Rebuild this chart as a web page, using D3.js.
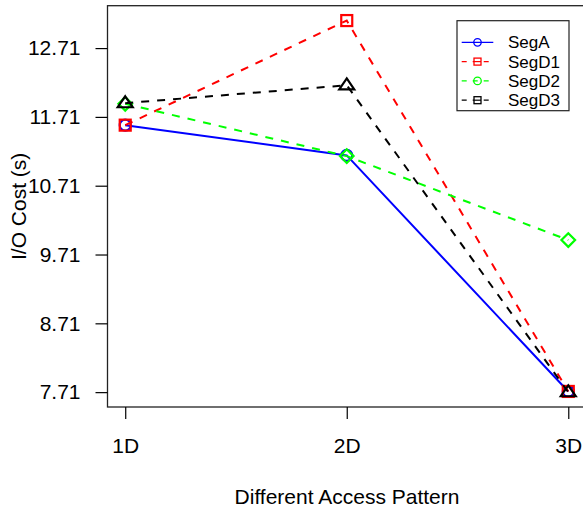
<!DOCTYPE html>
<html lang="en">
<head>
    <meta charset="UTF-8">
    <title>I/O Cost by Access Pattern</title>
    <script src="https://d3js.org/d3.v7.min.js"></script>
    <style>
        body { margin: 0; background: #fff; font-family: "Liberation Sans", Arial, sans-serif; }
        svg { display: block; }
    </style>
</head>
<body>
    <svg width="583" height="510"></svg>

    <script>
        // data
        const patterns = ["1D", "2D", "3D"];
        const segA  = [11.59, 11.15, 7.72];
        const segD1 = [11.59, 13.11, 7.72];
        const segD2 = [11.90, 11.14, 9.92];
        const segD3 = [11.91, 12.17, 7.71];
        const yTicks = [7.71, 8.71, 9.71, 10.71, 11.71, 12.71];

        const series = [
            { name: "SegA",  values: segA,  color: "#0000ff", dash: null,  mark: "circle",   legendMark: "circle" },
            { name: "SegD1", values: segD1, color: "#ff0000", dash: "8,8", mark: "square",   legendMark: "square" },
            { name: "SegD2", values: segD2, color: "#00ff00", dash: "8,8", mark: "diamond",  legendMark: "circle" },
            { name: "SegD3", values: segD3, color: "#000000", dash: "8,8", mark: "triangle", legendMark: "square" }
        ];

        const svg = d3.select("svg");

        const plotL = 107.5, plotR = 586, plotT = 5.7, plotB = 407;

        // R-style 4% padding around the data range
        const x = d3.scaleLinear().domain([0.92, 3.08]).range([plotL, plotR]);
        const y = d3.scaleLinear().domain([7.494, 13.326]).range([plotB, plotT]);

        // plot box
        svg.append("rect")
            .attr("x", plotL).attr("y", plotT)
            .attr("width", plotR - plotL).attr("height", plotB - plotT)
            .attr("fill", "none").attr("stroke", "#222").attr("stroke-width", 1.3);

        const yAxis = svg.append("g")
            .attr("transform", `translate(${plotL},0)`)
            .call(d3.axisLeft(y).tickValues(yTicks).tickSize(12).tickPadding(15).tickFormat(d3.format(".2f")));

        const xAxis = svg.append("g")
            .attr("transform", `translate(0,${plotB})`)
            .call(d3.axisBottom(x).tickValues([1, 2, 3]).tickSize(12).tickPadding(19).tickFormat((d, i) => patterns[i]));

        [xAxis, yAxis].forEach(a => {
            a.select(".domain").remove();
            a.selectAll("line").attr("stroke", "#000").attr("stroke-width", 1.2);
            a.selectAll("text").attr("font-size", "21px").attr("fill", "#000")
                .attr("font-family", "'Liberation Sans', Arial, sans-serif");
        });

        svg.append("text")
            .attr("x", 347)
            .attr("y", 504)
            .attr("text-anchor", "middle")
            .attr("font-size", "21px")
            .text("Different Access Pattern");

        svg.append("text")
            .attr("transform", `translate(26,${(plotT + plotB) / 2}) rotate(-90)`)
            .attr("text-anchor", "middle")
            .attr("font-size", "21px")
            .text("I/O Cost (s)");

        const line = d3.line()
            .x((d, i) => x(i + 1))
            .y(d => y(d));

        function drawMark(g, type, cx, cy, color, s, sw) {
            if (type === "circle") {
                g.append("circle").attr("cx", cx).attr("cy", cy).attr("r", s * 0.5)
                    .attr("fill", "none").attr("stroke", color).attr("stroke-width", sw);
            } else if (type === "square") {
                g.append("rect").attr("x", cx - s / 2).attr("y", cy - s / 2)
                    .attr("width", s).attr("height", s)
                    .attr("fill", "none").attr("stroke", color).attr("stroke-width", sw);
            } else if (type === "diamond") {
                const h = s * 0.62;
                g.append("path")
                    .attr("d", `M${cx},${cy - h}L${cx + h},${cy}L${cx},${cy + h}L${cx - h},${cy}Z`)
                    .attr("fill", "none").attr("stroke", color).attr("stroke-width", sw);
            } else if (type === "triangle") {
                const h = s * 0.62;
                g.append("path")
                    .attr("d", `M${cx},${cy - h}L${cx + h * 1.1},${cy + h * 0.6}L${cx - h * 1.1},${cy + h * 0.6}Z`)
                    .attr("fill", "none").attr("stroke", color).attr("stroke-width", sw);
            }
        }

        series.forEach(s => {
            const g = svg.append("g");
            g.append("path")
                .datum(s.values)
                .attr("d", line)
                .attr("fill", "none")
                .attr("stroke", s.color)
                .attr("stroke-width", 2)
                .attr("stroke-dasharray", s.dash);
            s.values.forEach((v, i) => drawMark(g, s.mark, x(i + 1), y(v), s.color, 11, 2.2));
        });

        // legend
        const lg = svg.append("g");
        lg.append("rect")
            .attr("x", 457).attr("y", 20.7).attr("width", 112).attr("height", 90)
            .attr("fill", "#fff").attr("stroke", "#222").attr("stroke-width", 1.2);

        series.forEach((s, i) => {
            const cy = 42.3 + i * 19.3;
            lg.append("line")
                .attr("x1", 461.7).attr("x2", 493.3).attr("y1", cy).attr("y2", cy)
                .attr("stroke", s.color).attr("stroke-width", 1.3)
                .attr("stroke-dasharray", s.dash ? "5,6" : null);
            if (s.legendMark === "circle") {
                drawMark(lg, "circle", 477.5, cy, s.color, 7.5, 1.3);
            } else {
                lg.append("rect").attr("x", 477.5 - 3.5).attr("y", cy - 3.5)
                    .attr("width", 7).attr("height", 7)
                    .attr("fill", "#fff").attr("stroke", s.color).attr("stroke-width", 1.3);
                lg.append("line").attr("x1", 474).attr("x2", 481).attr("y1", cy).attr("y2", cy)
                    .attr("stroke", s.color).attr("stroke-width", 1.2);
            }
            lg.append("text")
                .attr("x", 508).attr("y", cy)
                .attr("dy", "0.35em")
                .attr("font-size", "17px")
                .text(s.name);
        });
    </script>
</body>
</html>
